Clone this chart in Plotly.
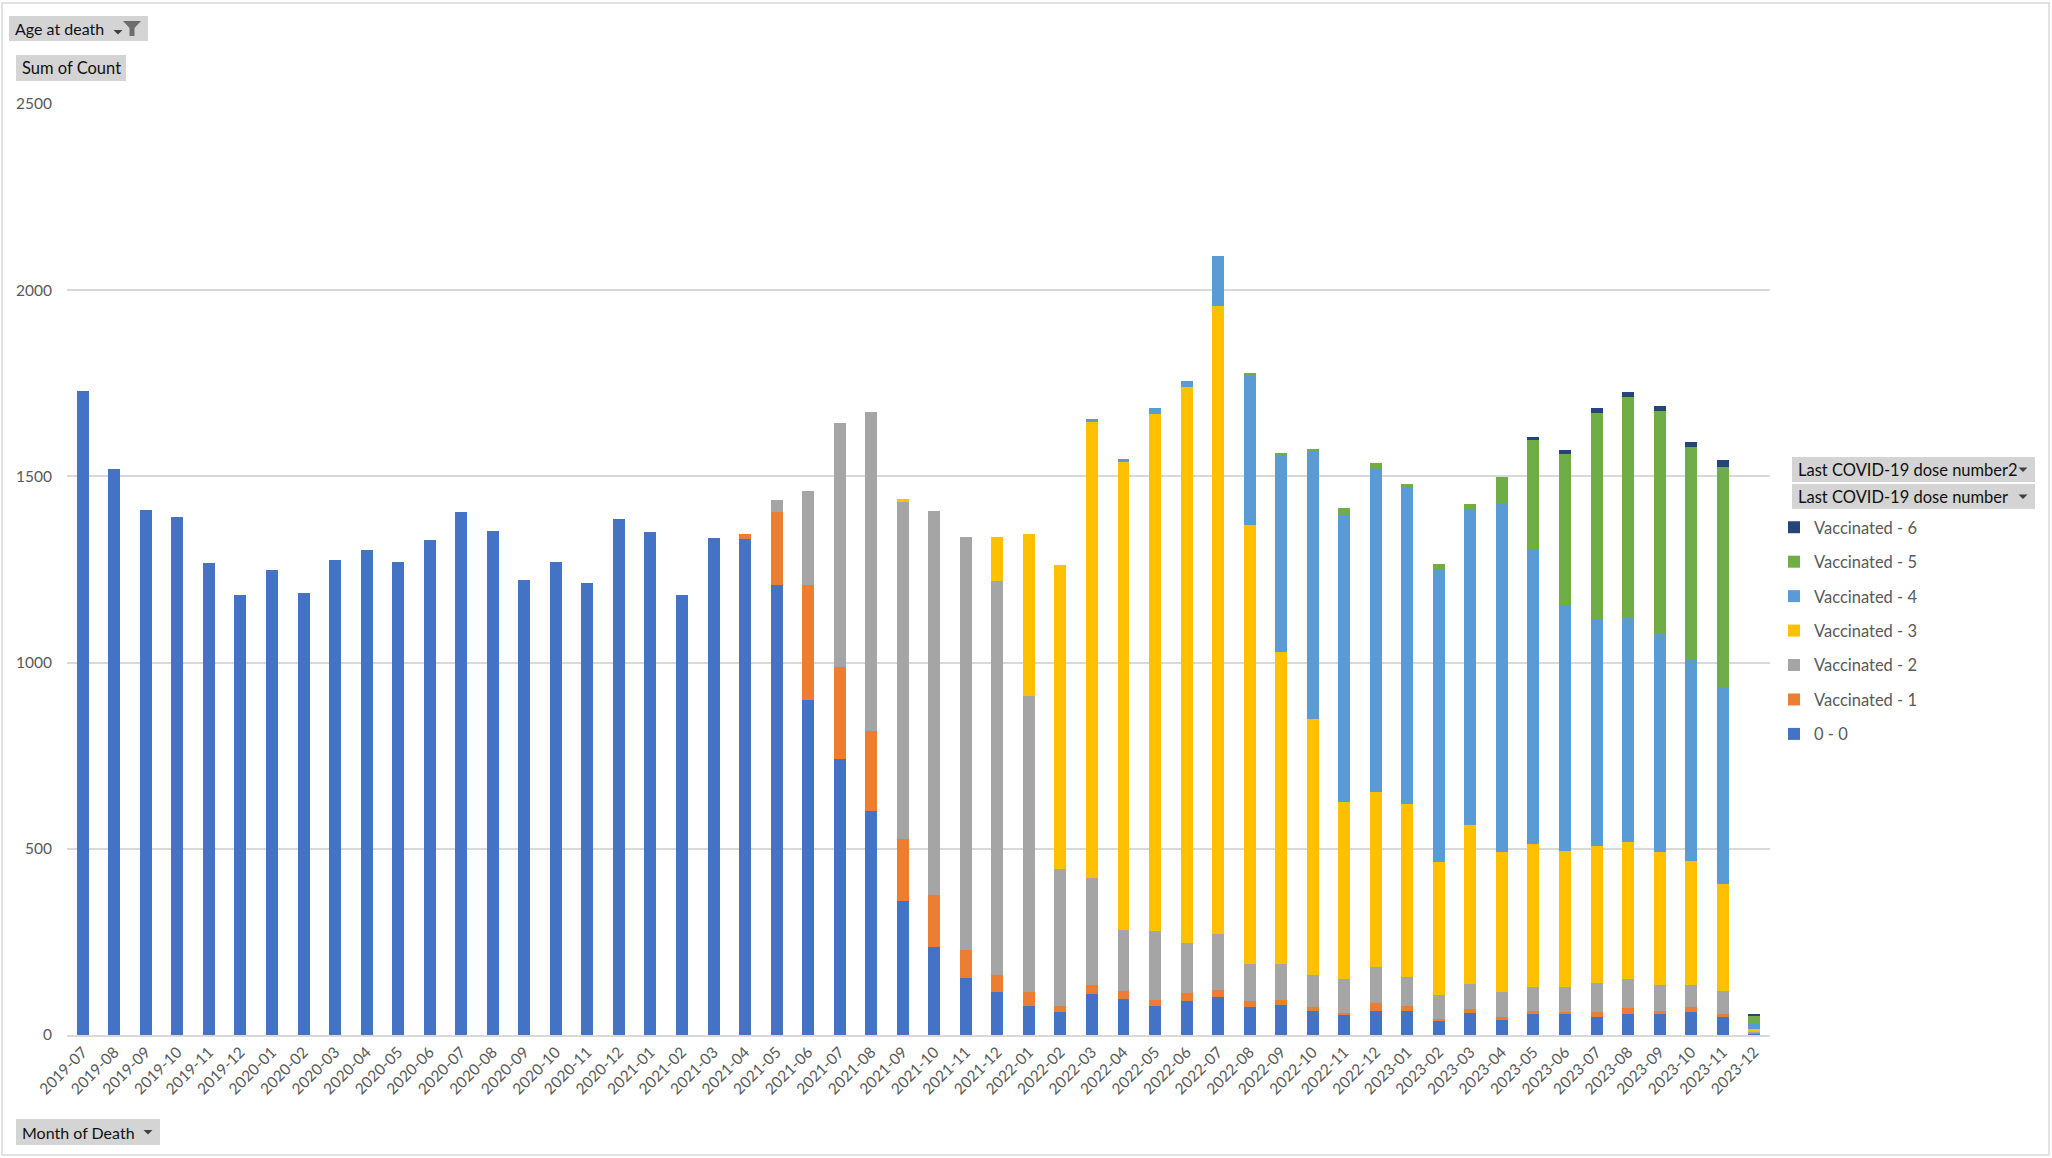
import plotly.graph_objects as go

# months on the x axis
months = [
    "2019-07", "2019-08", "2019-09", "2019-10", "2019-11", "2019-12",
    "2020-01", "2020-02", "2020-03", "2020-04", "2020-05", "2020-06",
    "2020-07", "2020-08", "2020-09", "2020-10", "2020-11", "2020-12",
    "2021-01", "2021-02", "2021-03", "2021-04", "2021-05", "2021-06",
    "2021-07", "2021-08", "2021-09", "2021-10", "2021-11", "2021-12",
    "2022-01", "2022-02", "2022-03", "2022-04", "2022-05", "2022-06",
    "2022-07", "2022-08", "2022-09", "2022-10", "2022-11", "2022-12",
    "2023-01", "2023-02", "2023-03", "2023-04", "2023-05", "2023-06",
    "2023-07", "2023-08", "2023-09", "2023-10", "2023-11", "2023-12",
]

# sum of count per month, by last dose number
dose_0 = [1728, 1521, 1410, 1392, 1268, 1182,
          1249, 1187, 1276, 1303, 1271, 1330, 1405, 1354, 1222, 1271, 1214, 1386,
          1351, 1182, 1335, 1332, 1209, 900, 742, 602, 359, 237, 154, 116,
          79, 62, 111, 97, 79, 92, 103, 76, 81, 65, 54, 65,
          65, 38, 60, 41, 57, 57, 49, 57, 57, 62, 49, 4]
dose_1 = [0] * 21 + [14, 196, 309, 246, 215, 166, 139, 75, 46,
                     37, 17, 22, 22, 16, 21, 19, 16, 14, 9, 4, 22,
                     14, 6, 11, 8, 8, 5, 13, 16, 8, 14, 8, 2]
dose_2 = [0] * 22 + [32, 252, 656, 857, 907, 1032, 1109, 1056,
                     794, 367, 288, 164, 183, 134, 150, 100, 97, 86, 93, 96,
                     77, 64, 67, 67, 64, 67, 78, 78, 70, 59, 62, 1]
dose_3 = [0] * 26 + [6, 0, 0, 120,
                     434, 815, 1225, 1256, 1389, 1493, 1685, 1178, 836, 689, 474, 469,
                     463, 356, 425, 375, 383, 365, 367, 367, 356, 332, 287, 10]
dose_4 = [0] * 32 + [8, 8, 17, 16, 136, 402, 531, 718, 772, 868,
                     853, 786, 849, 936, 793, 661, 607, 602, 586, 543, 525, 14]
dose_5 = [0] * 37 + [5, 4, 7, 19, 15,
                     7, 14, 14, 72, 293, 406, 556, 593, 598, 569, 595, 22]
dose_6 = [0] * 46 + [8, 10, 14, 14, 14, 14, 18, 2]

series = [
    ("0 - 0", dose_0, "#4472C4"),
    ("Vaccinated - 1", dose_1, "#ED7D31"),
    ("Vaccinated - 2", dose_2, "#A5A5A5"),
    ("Vaccinated - 3", dose_3, "#FFC000"),
    ("Vaccinated - 4", dose_4, "#5B9BD5"),
    ("Vaccinated - 5", dose_5, "#70AD47"),
    ("Vaccinated - 6", dose_6, "#264478"),
]

W, H = 2052, 1158
L, R, T, B = 67, 282, 104, 123
PW, PH = W - L - R, H - T - B


def X(px):
    return (px - L) / PW


def Y(py):
    return (H - B - py) / PH


FONT = "Lato, 'Open Sans', sans-serif"
GREY_TXT = "#595959"

fig = go.Figure()
for i, (name, vals, col) in enumerate(series):
    # legend lists the highest dose first, like the pivot chart
    fig.add_trace(go.Bar(x=months, y=vals, name=name, marker_color=col,
                         marker_line_width=0, legendgroup=name,
                         legendrank=100 - i))

shapes = []
annos = []


def tri(cx, cy, col="#404040"):
    shapes.append(dict(type="path", xref="paper", yref="paper",
                       path="M %f %f L %f %f L %f %f Z" % (X(cx - 4.5), Y(cy - 2), X(cx + 4.5), Y(cy - 2), X(cx), Y(cy + 2.5)),
                       fillcolor=col, line=dict(width=0)))


def button(x0, y0, x1, y1, text, arrow=False, size=16.5):
    shapes.append(dict(type="rect", xref="paper", yref="paper",
                       x0=X(x0), x1=X(x1), y0=Y(y1), y1=Y(y0),
                       fillcolor="#d4d4d4", line=dict(width=0), layer="below"))
    annos.append(dict(text=text, xref="paper", yref="paper",
                      x=X(x0 + 4), y=Y((y0 + y1) / 2), xanchor="left", yanchor="middle",
                      showarrow=False, font=dict(family=FONT, size=size, color="#111111")))
    if arrow:
        tri(x1 - 12, (y0 + y1) / 2)


button(9, 16, 148, 41, "Age at death", size=16)
# small dropdown arrow + funnel on the filter button
tri(118, 32)
shapes.append(dict(type="path", xref="paper", yref="paper",
                   path="M %f %f L %f %f L %f %f L %f %f L %f %f L %f %f Z" % (
                       X(123), Y(21), X(141), Y(21), X(134.5), Y(28),
                       X(134.5), Y(36), X(129.5), Y(36), X(129.5), Y(28)),
                   fillcolor="#6e6e6e", line=dict(width=0)))
button(16, 55, 126, 81, "Sum of Count", size=16.5)
button(16, 1119, 160, 1145, "Month of Death", arrow=True, size=16)
button(1792, 457, 2035, 482, "Last COVID-19 dose number2", arrow=True)
button(1792, 484, 2035, 509, "Last COVID-19 dose number", arrow=True)

# outer chart border
shapes.append(dict(type="rect", xref="paper", yref="paper",
                   x0=X(2), x1=X(2049), y0=Y(1155), y1=Y(3),
                   line=dict(color="#d9d9d9", width=1.5), fillcolor="rgba(0,0,0,0)"))

fig.update_layout(
    width=W, height=H,
    margin=dict(l=L, r=R, t=T, b=B),
    barmode="stack",
    bargap=0.62,
    plot_bgcolor="white",
    paper_bgcolor="white",
    font=dict(family=FONT, size=15, color=GREY_TXT),
    showlegend=True,
    legend=dict(x=X(1774), y=Y(510), xanchor="left", yanchor="top",
                traceorder="grouped", tracegroupgap=10,
                font=dict(family=FONT, size=16.5, color=GREY_TXT),
                itemwidth=30, bgcolor="rgba(0,0,0,0)"),
    shapes=shapes,
    annotations=annos,
)
fig.update_xaxes(tickangle=-45, showgrid=False, showline=True, linecolor="#d9d9d9",
                 linewidth=2, ticks="", tickfont=dict(size=15.5, color=GREY_TXT),
                 type="category")
fig.update_yaxes(range=[0, 2500], tickvals=[0, 500, 1000, 1500, 2000, 2500],
                 showgrid=True, gridcolor="#d9d9d9", gridwidth=2, zeroline=False,
                 showline=False, ticks="", ticklabelstandoff=14,
                 tickfont=dict(size=15.5, color=GREY_TXT))

fig.write_html("out.html", config={"displayModeBar": False},
               post_script="document.body.style.margin='0';document.body.style.overflow='hidden';")
